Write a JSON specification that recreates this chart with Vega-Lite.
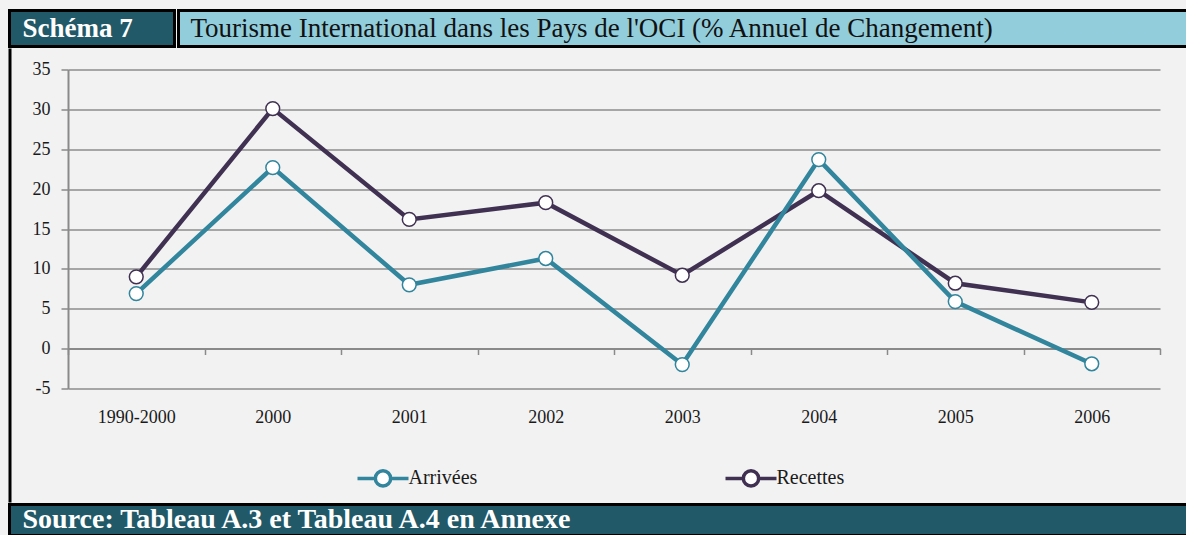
{
  "$schema": "https://vega.github.io/schema/vega-lite/v6.json",
  "background": "#F2F2F2",
  "padding": {"left": 7.5, "top": 8.5, "right": 0, "bottom": 0},
  "config": {
    "font": "Liberation Serif",
    "view": {"stroke": null},
    "concat": {"spacing": 0}
  },
  "datasets": {
    "tourisme": [
      {"annee": "1990-2000", "serie": "Recettes", "valeur": 9.0},
      {"annee": "2000", "serie": "Recettes", "valeur": 30.1},
      {"annee": "2001", "serie": "Recettes", "valeur": 16.2},
      {"annee": "2002", "serie": "Recettes", "valeur": 18.3},
      {"annee": "2003", "serie": "Recettes", "valeur": 9.2},
      {"annee": "2004", "serie": "Recettes", "valeur": 19.8},
      {"annee": "2005", "serie": "Recettes", "valeur": 8.2},
      {"annee": "2006", "serie": "Recettes", "valeur": 5.8},
      {"annee": "1990-2000", "serie": "Arrivées", "valeur": 6.9},
      {"annee": "2000", "serie": "Arrivées", "valeur": 22.7},
      {"annee": "2001", "serie": "Arrivées", "valeur": 8.0},
      {"annee": "2002", "serie": "Arrivées", "valeur": 11.3},
      {"annee": "2003", "serie": "Arrivées", "valeur": -2.0},
      {"annee": "2004", "serie": "Arrivées", "valeur": 23.7},
      {"annee": "2005", "serie": "Arrivées", "valeur": 5.9},
      {"annee": "2006", "serie": "Arrivées", "valeur": -1.9}
    ],
    "schema": [{"t": "Schéma 7"}],
    "titre": [{"t": "Tourisme International dans les Pays de l'OCI (% Annuel de Changement)"}],
    "source": [{"t": "Source: Tableau A.3 et Tableau A.4 en Annexe"}]
  },
  "spacing": 0,
  "vconcat": [
    {
      "spacing": 0,
      "hconcat": [
        {
          "width": 165,
          "height": 36,
          "data": {"name": "schema"},
          "view": {"fill": "#215968", "stroke": "black", "strokeWidth": 3},
          "mark": {"type": "text", "align": "left", "baseline": "middle", "dx": 13, "fontSize": 27, "fontWeight": "bold", "color": "white", "font": "Liberation Serif"},
          "encoding": {
            "text": {"field": "t", "type": "nominal"},
            "x": {"datum": 0, "type": "quantitative", "scale": {"domain": [0, 1]}, "axis": null}
          }
        },
        {
          "width": 1011,
          "height": 36,
          "data": {"name": "titre"},
          "view": {"fill": "#92CDDC", "stroke": "black", "strokeWidth": 3},
          "mark": {"type": "text", "align": "left", "baseline": "middle", "dx": 12, "fontSize": 27, "fontWeight": "normal", "color": "#111111", "font": "Liberation Serif"},
          "encoding": {
            "text": {"field": "t", "type": "nominal"},
            "x": {"datum": 0, "type": "quantitative", "scale": {"domain": [0, 1]}, "axis": null}
          }
        }
      ]
    },
    {
      "spacing": 20.5,
      "hconcat": [
        {
          "width": 1,
          "height": 452,
          "view": {"fill": "black", "stroke": "black", "strokeWidth": 2},
          "mark": {"type": "text"},
          "encoding": {"text": {"value": ""}}
        },
        {
          "spacing": 0,
          "vconcat": [
            {
              "width": 10,
              "height": 11,
              "mark": {"type": "text"},
              "encoding": {"text": {"value": ""}}
            },
            {
              "width": 1092,
              "height": 319,
              "data": {"name": "tourisme"},
              "encoding": {
                "x": {
                  "field": "annee",
                  "type": "ordinal",
                  "sort": null,
                  "bandPosition": 0.5,
                  "scale": {"type": "band", "paddingInner": 0, "paddingOuter": 0},
                  "axis": {
                    "title": null,
                    "orient": "bottom",
                    "offset": -40,
                    "labelAngle": 0,
                    "labelFont": "Liberation Serif",
                    "labelFontSize": 18,
                    "labelColor": "#1a1a1a",
                    "labelPadding": 54,
                    "domainColor": "#8a8a8a",
                    "domainWidth": 2,
                    "tickBand": "extent",
                    "tickColor": "#8a8a8a",
                    "tickSize": 6,
                    "tickWidth": 1.5,
                    "grid": false
                  }
                },
                "y": {
                  "field": "valeur",
                  "type": "quantitative",
                  "scale": {"domain": [-5, 35], "nice": false, "zero": false},
                  "axis": {
                    "title": null,
                    "values": [-5, 0, 5, 10, 15, 20, 25, 30, 35],
                    "labelExpr": "'' + datum.value",
                    "labelFont": "Liberation Serif",
                    "labelFontSize": 18,
                    "labelColor": "#1a1a1a",
                    "labelPadding": 11,
                    "grid": true,
                    "gridColor": "#8c8c8c",
                    "gridWidth": 1.5,
                    "domainColor": "#8a8a8a",
                    "domainWidth": 2,
                    "tickColor": "#8a8a8a",
                    "tickSize": 7,
                    "tickWidth": 1.5
                  }
                },
                "stroke": {
                  "field": "serie",
                  "type": "nominal",
                  "scale": {"domain": ["Arrivées", "Recettes"], "range": ["#31859C", "#403152"]},
                  "legend": {
                    "title": null,
                    "orient": "none",
                    "legendX": 346,
                    "legendY": 440,
                    "direction": "horizontal",
                    "columns": 2,
                    "columnPadding": 241,
                    "symbolType": "M-1,0H-0.3M0.3,0H1M0.3,0A0.3,0.3,0,1,1,-0.3,0A0.3,0.3,0,1,1,0.3,0Z",
                    "symbolSize": 2600,
                    "symbolStrokeWidth": 3.5,
                    "symbolFillColor": "white",
                    "labelFont": "Liberation Serif",
                    "labelFontSize": 20,
                    "labelColor": "#1a1a1a",
                    "labelOffset": -2,
                    "padding": 0,
                    "encode": {"symbols": {"update": {"fill": {"value": "white"}, "fillOpacity": {"value": 1}}}}
                  }
                }
              },
              "layer": [
                {"mark": {"type": "line", "strokeWidth": 4.5}},
                {"mark": {"type": "point", "filled": true, "fill": "white", "fillOpacity": 1, "opacity": 1, "size": 190, "strokeWidth": 1.5}}
              ]
            }
          ]
        }
      ]
    },
    {
      "width": 1180,
      "height": 31,
      "data": {"name": "source"},
      "view": {"fill": "#215968", "stroke": "black", "strokeWidth": 3},
      "mark": {"type": "text", "align": "left", "baseline": "middle", "dx": 13, "dy": -0.5, "fontSize": 28, "fontWeight": "bold", "color": "white", "font": "Liberation Serif"},
      "encoding": {
        "text": {"field": "t", "type": "nominal"},
        "x": {"datum": 0, "type": "quantitative", "scale": {"domain": [0, 1]}, "axis": null}
      }
    }
  ]
}
